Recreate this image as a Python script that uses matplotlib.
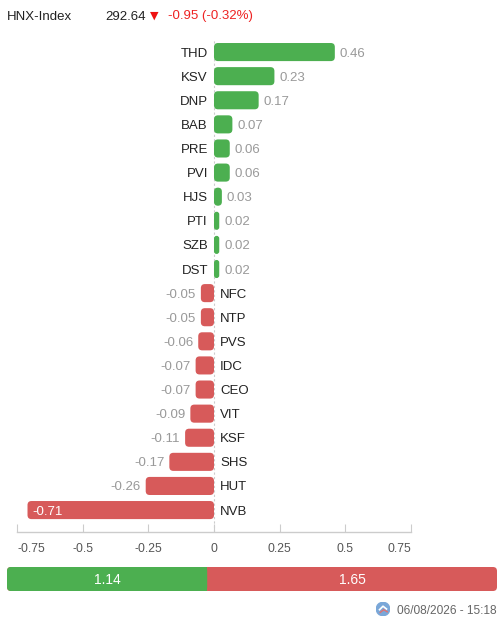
import matplotlib
matplotlib.use("Agg")
import matplotlib.pyplot as plt
from matplotlib.patches import FancyBboxPatch, Circle
import numpy as np

plt.rcParams['font.family'] = ['Liberation Sans', 'DejaVu Sans']

index_name = "HNX-Index"
index_value = "292.64"
index_change = "-0.95 (-0.32%)"
tickers = ["THD", "KSV", "DNP", "BAB", "PRE", "PVI", "HJS", "PTI", "SZB", "DST",
           "NFC", "NTP", "PVS", "IDC", "CEO", "VIT", "KSF", "SHS", "HUT", "NVB"]
values = [0.46, 0.23, 0.17, 0.07, 0.06, 0.06, 0.03, 0.02, 0.02, 0.02,
          -0.05, -0.05, -0.06, -0.07, -0.07, -0.09, -0.11, -0.17, -0.26, -0.71]
xticks = [-0.75, -0.5, -0.25, 0, 0.25, 0.5, 0.75]
xtick_labels = ["-0.75", "-0.5", "-0.25", "0", "0.25", "0.5", "0.75"]
total_up = 1.14
total_down = 1.65
timestamp = "06/08/2026 - 15:18"

GREEN = "#4caf50"
RED = "#d75a5a"
W, H = 503, 625
fig = plt.figure(figsize=(W / 100, H / 100), dpi=100)

def fx(px):
    return px / W

def fy(py):
    return 1 - py / H

# Header
fig.text(fx(7), fy(15), index_name, fontsize=9.5, color="#222", va="center_baseline", ha="left")
fig.text(fx(105), fy(15), index_value, fontsize=9.5, color="#222", va="center_baseline", ha="left")
fig.text(fx(150), fy(15), "\u25BC", fontsize=8, color="#ee1111", va="center_baseline", ha="left",
         family=['DejaVu Sans'])
fig.text(fx(168), fy(15), index_change, fontsize=9.5, color="#ee2222", va="center_baseline", ha="left")

# Main axes
ax_left, ax_right = 17, 411
ax_top, ax_bot = 40, 532
ax = fig.add_axes([fx(ax_left), fy(ax_bot), fx(ax_right - ax_left), (ax_bot - ax_top) / H])
n = len(tickers)
ypos = np.arange(n)
colors = [GREEN if v >= 0 else RED for v in values]
bars = ax.barh(ypos, values, height=0.75, color=colors)
ylo, yhi = 19.91, -0.5
ax.set_xlim(-0.75, 0.75)
ax.set_ylim(ylo, yhi)

pxx = (ax_right - ax_left) / 1.5
pxy = (ax_bot - ax_top) / (ylo - yhi)
aspect = (1 / pxy) / (1 / pxx)
rad_px = 4.0
for b in bars:
    x0, y0 = b.get_x(), b.get_y()
    w, h = b.get_width(), b.get_height()
    if w < 0:
        x0, w = x0 + w, -w
    r = min(rad_px / pxx, w / 2)
    p = FancyBboxPatch((x0, y0), w, h, boxstyle=f"round,pad=0,rounding_size={r}",
                       mutation_aspect=aspect, facecolor=b.get_facecolor(),
                       edgecolor="none", linewidth=0)
    ax.add_patch(p)
    b.set_visible(False)

ax.axvline(0, color="#cccccc", lw=0.8, ls=(0, (2, 2)), zorder=0)

d_name = 6 / pxx
d_val = 5 / pxx
FS = 9.5
VA = "center_baseline"
for i, (t, v) in enumerate(zip(tickers, values)):
    if v >= 0:
        ax.text(-d_name, i, t, ha="right", va=VA, fontsize=FS, color="#222")
        ax.text(v + d_val, i, f"{v:.2f}", ha="left", va=VA, fontsize=FS, color="#999")
    else:
        ax.text(d_name, i, t, ha="left", va=VA, fontsize=FS, color="#222")
        if v < -0.6:
            ax.text(v + d_val, i, f"{v:.2f}", ha="left", va=VA, fontsize=FS, color="white")
        else:
            ax.text(v - d_val, i, f"{v:.2f}", ha="right", va=VA, fontsize=FS, color="#999")

for s in ["top", "left", "right"]:
    ax.spines[s].set_visible(False)
ax.spines["bottom"].set_color("#cccccc")
ax.spines["bottom"].set_linewidth(1)
ax.set_yticks([])
ax.set_xticks(xticks)
ax.set_xticklabels(xtick_labels)
ax.tick_params(axis="x", direction="in", length=6, color="#cccccc", labelsize=8.8,
               labelcolor="#555", pad=8)
labs = ax.get_xticklabels()
labs[0].set_horizontalalignment("left")
labs[-1].set_horizontalalignment("right")
ax.patch.set_alpha(0)

# Bottom summary bar
bx = fig.add_axes([fx(7), fy(591), fx(497 - 7), (591 - 567) / H])
tot = total_up + total_down
bx.set_xlim(0, tot)
bx.set_ylim(0, 1)
bx.axis("off")
rr = 4 / (490 / tot)
asp = (1 / 24) / (tot / 490)
bx.add_patch(FancyBboxPatch((0, 0), tot, 1, boxstyle=f"round,pad=0,rounding_size={rr}",
                            mutation_aspect=asp, facecolor=RED, edgecolor="none"))
bx.add_patch(FancyBboxPatch((0, 0), total_up, 1, boxstyle=f"round,pad=0,rounding_size={rr}",
                            mutation_aspect=asp, facecolor=GREEN, edgecolor="none"))
bx.barh([0.5], [rr * 2], left=total_up - rr * 2, height=1, color=GREEN)
bx.text(total_up / 2, 0.5, f"{total_up:.2f}", ha="center", va="center_baseline", fontsize=10, color="white")
bx.text(total_up + total_down / 2, 0.5, f"{total_down:.2f}", ha="center", va="center_baseline",
        fontsize=10, color="white")

# Footer
fig.text(fx(497), fy(610), timestamp, fontsize=8.6, color="#666", ha="right", va="center_baseline")
ic = fig.add_axes([fx(376), fy(616), fx(14), 14 / H])
ic.set_xlim(0, 1); ic.set_ylim(0, 1); ic.axis("off"); ic.set_aspect("equal")
ic.add_patch(Circle((0.5, 0.5), 0.48, color="#7aa7d8"))
ic.plot([0.25, 0.5, 0.75], [0.45, 0.7, 0.5], color="white", lw=1.2)
ic.plot([0.3, 0.55, 0.8], [0.25, 0.45, 0.3], color="#e07070", lw=1)

fig.savefig("out.png", dpi=100)
